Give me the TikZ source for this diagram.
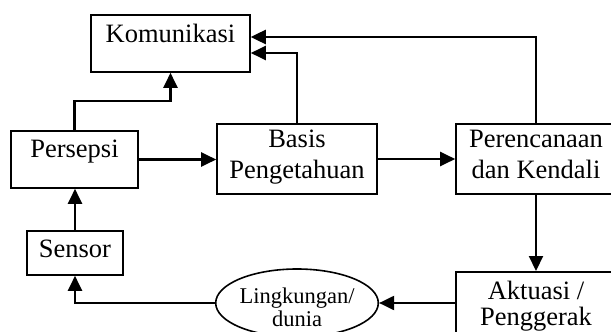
\documentclass[tikz,border=0pt]{standalone}
\usepackage{fontspec}
\setmainfont{Liberation Serif}
\usetikzlibrary{arrows.meta,shapes.geometric}
\begin{document}
\begin{tikzpicture}[x=1pt,y=-1pt,
  box/.style={draw, line width=1.6pt, inner xsep=0pt, font=\fontsize{26.5}{31}\selectfont, align=center},
  conn/.style={line width=2.1pt, -{Triangle[length=15pt,width=14pt]}},
]
\useasboundingbox (0,0) rectangle (611,332);
\clip (0,0) rectangle (611,332);

\node[box, minimum width=159pt, text height=18pt, text depth=21pt, inner ysep=9pt] (kom) at (170.5,43.5) {Komunikasi};
\node[box, minimum width=127pt, text height=18pt, text depth=23pt, inner ysep=8pt] (per) at (74.5,159.5) {Persepsi};
\node[box, minimum width=96pt, text height=18pt, text depth=10pt, inner ysep=8pt] (sen) at (75,253) {Sensor};
\node[box, minimum width=160pt, minimum height=70pt] (bas) at (297,159) {Basis\\Pengetahuan\strut};
\node[box, minimum width=160pt, minimum height=70pt] (ren) at (536,159) {Perencanaan\\dan Kendali\strut};
\node[box, minimum width=160pt, minimum height=56pt, font=\fontsize{26.5}{26}\selectfont] (akt) at (536,303) {\rule{0pt}{24pt}Aktuasi /\\Penggerak};
\node[draw, ellipse, line width=1.6pt, minimum width=160pt, minimum height=68pt, inner sep=0pt, align=center, font=\fontsize{22.5}{23}\selectfont] (ell) at (297,303) {\rule{0pt}{24pt}Lingkungan/\\dunia};

\draw[conn] (per.north) -- ++(0,-29) -| (kom.south);
\draw[conn] (bas.north) |- ([yshift=-9.5pt]kom.east);
\draw[conn, line width=2.7pt] (ren.north) |- ([yshift=6.5pt]kom.east);
\draw[conn] (per.east) -- (per.east -| bas.west);
\draw[conn] (bas.east) -- (ren.west);
\draw[conn] (ren.south) -- (akt.north);
\draw[conn] (akt.west) -- (ell.east);
\draw[conn] (ell.west) -| (sen.south);
\draw[conn] (sen.north) -- (sen.north |- per.south);
\end{tikzpicture}
\end{document}
